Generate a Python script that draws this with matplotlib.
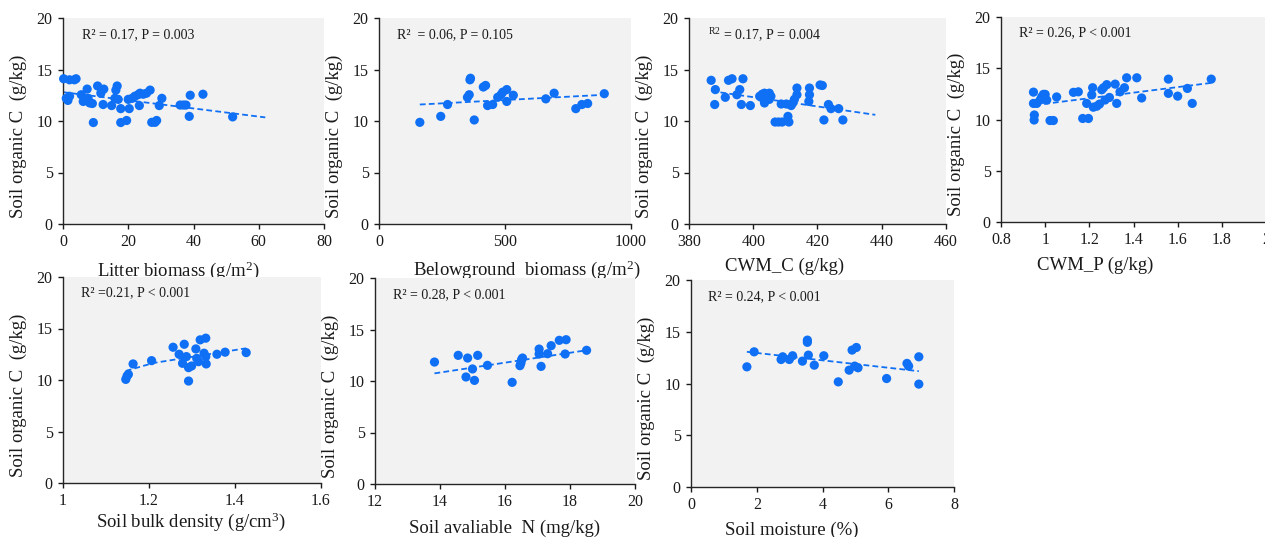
import matplotlib

matplotlib.use("Agg")
import matplotlib.pyplot as plt

FIG_W_PX = 1265
FIG_H_PX = 537
DPI = 100

Y_LABEL = "Soil organic C  (g/kg)"
Y_TICKS = [0, 5, 10, 15, 20]

# Litter biomass (g/m2)
litter_x = [0.2, 2.0, 3.5, 4.0, 1.0, 1.5, 2.0, 5.6, 6.2, 7.4, 7.7, 8.2, 9.0, 9.3, 10.6, 11.6,
            12.5, 12.3, 14.9, 15.9, 16.2, 16.6, 16.9, 17.7, 17.7, 19.5, 20.0, 20.3, 21.2, 22.0,
            23.0, 23.6, 24.6, 25.6, 26.7, 23.4, 27.2, 28.2, 28.7, 29.5, 30.3, 35.9, 36.9, 37.7,
            38.7, 39.0, 42.9, 52.0]
litter_y = [14.1, 14.0, 14.0, 14.1, 12.2, 12.0, 12.4, 12.55, 11.9, 13.1, 12.2, 11.75, 11.7, 9.85,
            13.4, 12.7, 13.1, 11.6, 11.5, 12.2, 13.0, 13.4, 12.1, 11.2, 9.85, 10.05, 12.1, 11.2,
            12.2, 12.4, 12.55, 12.7, 12.6, 12.7, 13.0, 11.5, 9.87, 9.87, 10.05, 11.5, 12.2, 11.55,
            11.55, 11.55, 10.45, 12.5, 12.6, 10.4]
litter_trend_x = [0, 62]
litter_trend_y = [12.8, 10.35]
litter_ticks = [0, 20, 40, 60, 80]

# Belowground biomass (g/m2)
below_x = [162, 245, 272, 351, 358, 361, 363, 378, 414, 423, 431, 451, 471, 484, 491, 507, 507,
           533, 662, 695, 781, 805, 828, 894]
below_y = [9.87, 10.45, 11.6, 12.3, 12.55, 14.0, 14.15, 10.1, 13.3, 13.45, 11.5, 11.6, 12.3,
           12.55, 12.8, 13.05, 11.9, 12.5, 12.15, 12.7, 11.2, 11.6, 11.7, 12.65]
below_trend_x = [162, 898]
below_trend_y = [11.6, 12.55]
below_ticks = [0, 500, 1000]

# CWM_C (g/kg)
cwmc_x = [386.9, 388.2, 388.0, 391.3, 392.3, 393.4, 394.9, 395.8, 396.8, 396.3, 399.1, 402.0,
          402.8, 403.5, 404.2, 405.0, 403.8, 404.6, 403.5, 405.0, 402.5, 405.5, 406.8, 407.9,
          409.0, 410.8, 411.1, 408.7, 410.3, 411.8, 412.3, 412.8, 413.6, 413.6, 417.5, 417.5,
          417.3, 420.8, 421.5, 422.0, 423.4, 424.2, 426.6, 427.9]
cwmc_y = [13.95, 13.05, 11.6, 12.3, 13.95, 14.1, 12.55, 13.05, 14.1, 11.6, 11.5, 12.4, 12.6,
          12.7, 12.55, 12.7, 12.1, 12.2, 11.75, 12.1, 12.3, 12.4, 9.9, 9.9, 9.9, 10.45, 9.9,
          11.65, 11.65, 11.5, 11.75, 12.1, 12.55, 13.2, 13.2, 12.55, 11.9, 13.5, 13.45, 10.1,
          11.6, 11.2, 11.2, 10.1]
cwmc_trend_x = [387, 438]
cwmc_trend_y = [12.9, 10.6]
cwmc_ticks = [380, 400, 420, 440, 460]

# CWM_P (g/kg)
cwmp_x = [0.947, 0.947, 0.951, 0.950, 0.962, 0.977, 0.984, 0.992, 1.000, 1.000, 1.007, 1.022,
          1.037, 1.052, 1.128, 1.150, 1.170, 1.196, 1.188, 1.211, 1.215, 1.218, 1.234, 1.246,
          1.256, 1.264, 1.279, 1.271, 1.291, 1.317, 1.324, 1.339, 1.359, 1.369, 1.415, 1.437,
          1.558, 1.558, 1.600, 1.644, 1.666, 1.752]
cwmp_y = [12.67, 11.57, 10.44, 9.95, 11.57, 11.9, 12.2, 12.45, 12.45, 11.96, 11.9, 9.9, 9.9,
          12.2, 12.65, 12.7, 10.1, 10.1, 11.57, 12.4, 13.1, 11.2, 11.3, 11.5, 12.9, 13.1, 13.4,
          11.9, 12.15, 13.45, 11.57, 12.7, 13.1, 14.07, 14.07, 12.1, 13.94, 12.55, 12.28, 13.03,
          11.57, 13.94]
cwmp_trend_x = [0.954, 1.755]
cwmp_trend_y = [11.41, 13.58]
cwmp_ticks = [0.8, 1.0, 1.2, 1.4, 1.6, 1.8, 2.0]

# Soil bulk density (g/cm3)
bd_x = [1.146, 1.149, 1.152, 1.163, 1.206, 1.256, 1.270, 1.282, 1.278, 1.287, 1.292, 1.292,
        1.309, 1.299, 1.311, 1.315, 1.319, 1.332, 1.328, 1.332, 1.333, 1.358, 1.377, 1.426]
bd_y = [10.06, 10.39, 10.55, 11.56, 11.88, 13.18, 12.5, 13.47, 11.62, 12.27, 11.2, 9.9, 13.02,
        11.36, 12.1, 11.78, 13.9, 14.06, 12.6, 12.27, 11.56, 12.5, 12.7, 12.66]
bd_trend_x = [1.146, 1.21, 1.426]
bd_trend_y = [10.88, 11.65, 13.08]
bd_ticks = [1.0, 1.2, 1.4, 1.6]

# Soil available N (mg/kg)
sn_x = [13.83, 14.56, 14.80, 14.85, 15.00, 15.06, 15.16, 15.46, 16.22, 16.46, 16.49, 16.51,
        16.54, 17.05, 17.05, 17.11, 17.31, 17.42, 17.67, 17.88, 17.85, 18.51]
sn_y = [11.84, 12.49, 10.39, 12.23, 11.17, 10.06, 12.49, 11.52, 9.87, 11.49, 11.75, 12.07,
        12.23, 13.1, 12.62, 11.42, 12.65, 13.43, 13.95, 14.01, 12.62, 12.98]
sn_trend_x = [13.83, 18.54]
sn_trend_y = [10.74, 13.0]
sn_ticks = [12, 14, 16, 18, 20]

# Soil moisture (%)
sm_x = [1.70, 1.92, 2.74, 2.79, 2.99, 3.09, 3.39, 3.54, 3.54, 3.57, 3.75, 4.04, 4.48, 4.81,
        4.90, 5.03, 4.98, 5.08, 5.95, 6.57, 6.62, 6.93, 6.93]
sm_y = [11.61, 13.06, 12.32, 12.58, 12.32, 12.68, 12.16, 14.19, 13.98, 12.74, 11.77, 12.68,
        10.16, 11.29, 13.23, 13.48, 11.68, 11.52, 10.48, 11.94, 11.68, 12.58, 9.94]
sm_trend_x = [1.70, 6.93]
sm_trend_y = [13.06, 11.19]
sm_ticks = [0, 2, 4, 6, 8]

POINT_COLOR = "#1070f5"
PANEL_BG = "#f2f2f2"
TEXT_COLOR = "#1a1a1a"

# box = (left, top, right, bottom) in pixels; label_cx/label_top = x-axis title placement
PANELS = [
    dict(x=litter_x, y=litter_y, tx=litter_trend_x, ty=litter_trend_y, ticks=litter_ticks,
         xlabel="Litter biomass (g/m$^{2}$)", stat="R² = 0.17, P = 0.003",
         box=(63, 18, 324, 224), label_cx=178, label_top=259, stat_xy=(82, 35)),
    dict(x=below_x, y=below_y, tx=below_trend_x, ty=below_trend_y, ticks=below_ticks,
         xlabel="Belowground  biomass (g/m$^{2}$)", stat="R²  = 0.06, P = 0.105",
         box=(379, 18, 631, 224), label_cx=527, label_top=258, stat_xy=(397, 35)),
    dict(x=cwmc_x, y=cwmc_y, tx=cwmc_trend_x, ty=cwmc_trend_y, ticks=cwmc_ticks,
         xlabel="CWM_C (g/kg)", stat=r"$^{\mathrm{R2}}$ = 0.17, P = 0.004",
         box=(689, 18, 946, 224), label_cx=785, label_top=258, stat_xy=(708, 35)),
    dict(x=cwmp_x, y=cwmp_y, tx=cwmp_trend_x, ty=cwmp_trend_y, ticks=cwmp_ticks,
         xlabel="CWM_P (g/kg)", stat="R² = 0.26, P < 0.001",
         box=(1001, 17, 1266, 222), label_cx=1095, label_top=257, stat_xy=(1019, 33)),
    dict(x=bd_x, y=bd_y, tx=bd_trend_x, ty=bd_trend_y, ticks=bd_ticks,
         xlabel="Soil bulk density (g/cm$^{3}$)", stat="R² =0.21, P < 0.001",
         box=(63, 277, 321, 483), label_cx=191, label_top=510, stat_xy=(81, 293)),
    dict(x=sn_x, y=sn_y, tx=sn_trend_x, ty=sn_trend_y, ticks=sn_ticks,
         xlabel="Soil avaliable  N (mg/kg)", stat="R² = 0.28, P < 0.001",
         box=(375, 278, 635, 484), label_cx=505, label_top=520, stat_xy=(393, 295)),
    dict(x=sm_x, y=sm_y, tx=sm_trend_x, ty=sm_trend_y, ticks=sm_ticks,
         xlabel="Soil moisture (%)", stat="R² = 0.24, P < 0.001",
         box=(691, 280, 954, 487), label_cx=792, label_top=522, stat_xy=(708, 297)),
]


def paper_style() -> None:
    plt.rcParams.update(
        {
            "font.family": ["Liberation Serif", "DejaVu Serif"],
            "mathtext.fontset": "custom",
            "mathtext.rm": "Liberation Serif",
            "mathtext.it": "Liberation Serif:italic",
            "mathtext.bf": "Liberation Serif:bold",
            "font.size": 11,
            "axes.linewidth": 1.0,
            "xtick.direction": "out",
            "ytick.direction": "out",
            "xtick.major.size": 3.5,
            "ytick.major.size": 3.5,
            "xtick.major.width": 1.0,
            "ytick.major.width": 1.0,
            "xtick.labelsize": 11.5,
            "ytick.labelsize": 11.5,
            "xtick.color": TEXT_COLOR,
            "ytick.color": TEXT_COLOR,
            "figure.facecolor": "white",
        }
    )


def fmt_tick(v: float) -> str:
    return f"{v:g}"


def draw_panel(fig, p: dict) -> None:
    left, top, right, bottom = p["box"]
    w_px = right - left
    h_px = bottom - top
    ax = fig.add_axes([left / FIG_W_PX, 1 - bottom / FIG_H_PX, w_px / FIG_W_PX, h_px / FIG_H_PX])
    ax.set_facecolor(PANEL_BG)
    for side in ("top", "right"):
        ax.spines[side].set_visible(False)
    for side in ("left", "bottom"):
        ax.spines[side].set_color("#262626")

    ax.scatter(p["x"], p["y"], s=44, color=POINT_COLOR, edgecolors="none", zorder=3, clip_on=False)
    ax.plot(p["tx"], p["ty"], color=POINT_COLOR, linestyle=(0, (3.2, 1.8)), linewidth=1.3, zorder=2)

    ticks = p["ticks"]
    ax.set_xlim(ticks[0], ticks[-1])
    ax.set_xticks(ticks)
    ax.set_xticklabels([fmt_tick(t) for t in ticks])
    ax.set_ylim(Y_TICKS[0], Y_TICKS[-1])
    ax.set_yticks(Y_TICKS)
    ax.set_yticklabels([fmt_tick(t) for t in Y_TICKS])
    ax.tick_params(axis="both", pad=4)

    ax.set_xlabel(p["xlabel"], fontsize=13.5, color=TEXT_COLOR)
    ax.xaxis.set_label_coords((p["label_cx"] - left) / w_px, -(p["label_top"] - bottom) / h_px)
    ax.set_ylabel(Y_LABEL, fontsize=13.5, color=TEXT_COLOR)
    ax.yaxis.set_label_coords(-36 / w_px, 0.5 - 15 / h_px)

    sx, sy = p["stat_xy"]
    ax.text((sx - left) / w_px, (bottom - sy) / h_px, p["stat"], transform=ax.transAxes,
            ha="left", va="center", fontsize=10, color=TEXT_COLOR)


def main() -> int:
    paper_style()
    fig = plt.figure(figsize=(FIG_W_PX / DPI, FIG_H_PX / DPI), dpi=DPI)
    for p in PANELS:
        draw_panel(fig, p)
    fig.savefig("out.png", dpi=DPI)
    plt.close(fig)
    return 0


if __name__ == "__main__":
    raise SystemExit(main())
